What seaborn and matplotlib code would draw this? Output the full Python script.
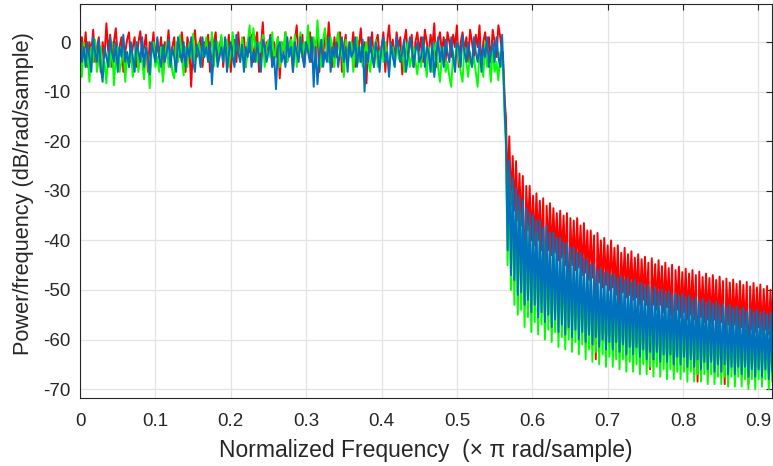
import numpy as np
import pandas as pd
import matplotlib
matplotlib.use("Agg")
import matplotlib.pyplot as plt
import seaborn as sns

# ---------------- data ----------------
series_names = ["red", "green", "blue"]
series_colors = ["#ff0000", "#00ff00", "#0072bd"]

pass_step = 0.0025          # passband frequency grid step (x pi rad/sample)
trans_freq = [0.561, 0.562, 0.563, 0.564]
peak_start, trough_start, ripple_period = 0.565, 0.56725, 0.0045

red_pass = [
    -8, 1, -3, 2, -5, 0, -2, 2.5, -4, -1, 1, -6, 0, -3, 3.8,
    -2, 1.5, -5, 0, 2.8, -3, -1, 1, -6, -2, 0.5, 2, -4, -1, 1,
    -5, 0, 2.2, -3, -1, 1.5, -6, 0, -2, 2, -4, 0.5, -3, 1, -7,
    0, -2, 2.4, -4, -1, 1, -5, 0.5, -3, 2, -2, -6, 1, -1, -9,
    0, 2.4, -3, -1, 1, -5, 0, -2, 1.5, -6, -3, 0, 2, -4, -1,
    1, -5, 0, -2, 1.5, -6, -1, 0.5, -4, 2, -3, -1, 1, -5, 0,
    -2, 1.5, -4, 0, 2, -6, -1, 4, -3, 0, -2, 1.5, -5, 0, -3,
    1, -7.3, 0, -2, 2, -4, -1, 1, -6, 0, 3.4, -3, -1, 1.5, -5,
    0, -2, 2, -4, 0.5, -1, 1.5, -6, 0, -3, 2, -2, 4, -1, -5,
    1, -3, 0, 2, -6, -1, 1.5, -4, 0, -2, 2, -5, 0.5, -1, 2.8,
    -3, 0, -8.3, 1, -2, 2, -5, 0, 1.5, -3, -1, 2, -6, 0, 3.4,
    -2, 0.5, -4, 2, -1, 1, -6.5, 0, 2.5, -3, -1, 1.5, -5, 0, 2,
    -2, 1, -4, 2.5, 0, -3, 1.5, -1, 3.8, -5, 0, 2, -2, 1, -4,
    2, 0, -3, 1.5, -1, 3.4, -5, 0, 2, -2, 1, -4, 2.5, 0, -3,
    1.5, -1, 3.4, -5, 0, 2, -2, 1, -4, 2.5, 0, -3, 3.4, 1, -2,
]
green_pass = [
    -3, -7, 0, -5, -2, -8, -1, -4, 0.5, -6, -3, -1, -7, -4, -8.3,
    -2, -5, 0, -8.7, -3, -1, -6, -4, 0, -8, -2, -5, -1, -7, -3,
    0, -6, -2, -4, -7.5, -1, -3, -9.3, -2, 0, -5, -3, -6, -1, -8,
    -3, 0, -5, -2, -6, -7.3, 0, -4, 1.4, -3, -6.7, -1, -5, 0, -3,
    1.7, -4, -2, 0, -5, -1, -3, 1, -4, -2, 2, -5, -1, 0, -3,
    1.5, -4, -1, 0.5, -5, -2, 2, -3, 0, -1, -4, 1, -2, -5, 0,
    3.4, -3, 2.8, -1, -4, 0, -2, 1.5, -5, -1, 0.5, -3, 2, -4, -1,
    1, -5, 0, -2, 2, -4, -1, 0.5, -3, 1.5, -5, -1, 2, -3, 0,
    -2, 3.4, -4, 0, 1, -3, 4.4, -1, -5, 0.5, 2.8, -2, -4, 1, -1,
    -5, 0, 2, -3, -1, -7, 0.5, -4, -2, 0, -6, -2, 1, -4, -1,
    -5, -2, 0, -4, -6, -1, -3, 0.5, -5, -2, -1, -4, 0, -3, -6,
    -2, -1, -5, 0, -3, -4, -1, -6, -2, 0, -5, -3, -1, -4, -6.5,
    -2, -5, 0, -3, -7, -1, -4, -6, -2, 0, -5, -8, -3, -1, -6,
    -4, -7, -9, -2, -5, 0, -3, -6, -8, -1, -4, -7, -2, -5, -3,
    -6, -9, -2, -4, -7, 0, -5, -3, -8, -1, -6, -4, -7.7, -2, -5,
]
blue_pass = [
    1, -4, -1, -5, 0, -3, -6, 1, -2, -4, 0.5, -5, -8, -1, -3,
    -5, 1, -2, -4, 0, -6, -1, -3, 1.5, -4, -2, -5, 0, -3, -6,
    0, -2, -4, 1, -5, -1, -3, -6.5, 0, -2, -4, 1, -3, -5, -0.5,
    -4, -2, 0.5, -5, -1, -3, -6, 1, -2, -4, 0, -5, -1, -3, 1,
    -4, -6, -0.5, -2, -5, 1, -3, -1, -4, 0, -8.5, -2, 0.5, -5, -3,
    -1, -4, 1, -6, -2, 0, -3, -5, 1.5, -2, -4, -0.5, -6, -1, -3,
    1, -5, -2, -4, 0, -3, -6, 0.5, -1, -4, -2, 1, -5, -3, -9.5,
    -1, 0, -4, -2, -5, 1, -3, -1, -6, 0, -2, -4, 1, -3, -5,
    0, -2, -4, 1, -9, -1, -8.5, -3, 0.5, -5, -2, -4, 1, -6, -1,
    -3, 0, -5, -2, 1, -4, -1, -6, 0, -3, -2, 1, -5, -1, -4,
    0.5, -10, -2, -4, 1, -3, -5, 0, -2, -6, -1, 1, -4, -2, -7,
    0, -3, -5, 1, -1, -4, -2, 0.5, -6, -3, 1, -1, -5, -2, 0,
    -4, -3, 1, -5, -1, -2, -6, 0, -7, -3, 1, -4, -1, -5, 0.5,
    -2, -4, 1, -3, -6, 0, -1, -5, 1.5, -2, -4, 0, -3, -5, 1,
    -2, -4, 0, -6, -1, -3, 1, -5, -2, 0, -4, 1, -3, -5, 1.5,
]

red_trans = [-2, -6, -10, -13]
green_trans = [-5, -9, -14, -18]
blue_trans = [-3, -7, -12, -16]

red_peak = [
    -15, -19, -23, -24, -26.5, -27, -29, -29, -31, -30.5, -32, -31.5, -33, -32.5,
    -33.5, -34.5, -34, -35, -34.5, -35.5, -36, -35.5, -37, -36.5, -38, -38, -39,
    -38.5, -40, -39.5, -41, -40, -41.5, -41, -42.5, -41.5, -42.8, -42.2, -43.5,
    -42.8, -43.8, -43.3, -44.5, -43.6, -44.8, -44, -45.2, -44.5, -45.6, -44.9, -46,
    -45.3, -46.4, -45.7, -46.7, -46, -47, -46.3, -47.4, -46.7, -47.6, -47, -48,
    -47.3, -48.2, -47.7, -48.5, -47.9, -48.8, -48.2, -49, -48.4, -49.3, -48.6,
    -49.5, -48.9, -49.8, -49.2, -50, -49.5,
]
red_trough = [
    -30, -33, -34, -36, -37, -52, -38, -40, -41, -40, -42, -55, -42, -43, -42.5,
    -44, -43.5, -45, -58, -45, -46, -45.5, -47, -46.5, -48, -47.5, -64, -48.5,
    -49.5, -49, -50, -49.5, -51, -55, -50.5, -51.5, -51, -52, -51.5, -53, -52,
    -53, -66, -53, -54, -53, -54.5, -53.5, -55, -66.5, -54, -55.5, -54.5, -56,
    -55, -56, -68.5, -55.5, -56.5, -56, -57, -56, -57.5, -56.5, -69, -57, -58,
    -57, -58, -57.5, -58.5, -69, -58, -58.5, -57.5, -59, -58, -59, -58.5,
]
green_peak = [
    -21, -26.5, -30, -31.5, -34, -34.5, -36.5, -37, -38.5, -38.5, -40, -40, -41,
    -41, -42.5, -42, -43.5, -43, -44.5, -44, -45.5, -45, -46.5, -46.5, -48, -47.5,
    -49, -48.5, -50, -49, -50.5, -49.5, -51, -50.5, -51.5, -51, -52, -51.5, -52.5,
    -52, -53, -52.3, -53.3, -52.8, -53.8, -53.2, -54.2, -53.5, -54.5, -53.8, -54.8,
    -54.2, -55, -54.5, -55.3, -54.8, -55.7, -55.2, -56, -55.5, -56.3, -55.8, -56.6,
    -56, -56.8, -56.3, -57, -56.5, -57.3, -56.7, -57.5, -57, -57.7, -57.2, -57.9,
    -57.4, -58, -57.6, -58.2, -57.8,
]
green_trough = [
    -45, -50, -53, -55, -54, -57.5, -55.5, -58.5, -56.5, -59, -57, -60, -58, -60.5,
    -58.5, -61.5, -59.5, -62, -60, -62.5, -60.5, -63, -61, -64, -62, -64.5, -62.5,
    -65, -63, -65.5, -63.5, -65.5, -64, -66, -64, -66.5, -64.5, -66.5, -65, -67,
    -65, -67, -65.5, -67.5, -65.5, -67.5, -66, -68, -66, -68, -66.5, -68, -66.5,
    -68.5, -66.5, -68.5, -67, -68.5, -67, -69, -67, -69, -67.5, -69, -67.5, -69.5,
    -67.5, -69.5, -67.5, -69.5, -68, -70, -68, -70, -68, -69.5, -68, -70, -68.5,
]
blue_peak = [
    -19, -24, -27.5, -29.5, -31, -32, -33.5, -34.5, -35, -36, -36, -37.5, -37,
    -38.5, -38.5, -39.5, -39.5, -40.5, -40.5, -41.5, -41.5, -42.5, -42.5, -43.5,
    -44, -45, -44.8, -46, -45.6, -46.6, -46.3, -47, -46.8, -47.7, -47.2, -48, -47.6,
    -48.5, -48, -49, -48.5, -49.4, -49, -50, -49.4, -50.4, -49.9, -50.8, -50.2, -51,
    -50.6, -51.3, -50.8, -51.6, -51.2, -52, -51.5, -52.3, -51.8, -52.7, -52.1, -53,
    -52.4, -53.2, -52.8, -53.5, -53, -53.8, -53.3, -54, -53.6, -54.3, -53.8, -54.5,
    -54, -54.8, -54.3, -55, -54.6, -55.3,
]
blue_trough = [
    -42, -47, -48, -51, -50.5, -53, -52, -54.5, -53, -55.5, -54.5, -56.5, -55,
    -57.5, -56, -58.5, -57, -59, -57.5, -59.5, -58, -60, -58.5, -60.5, -59, -61,
    -59.5, -61.5, -60, -62, -60.5, -62, -60.5, -62.5, -61, -63, -61.5, -63, -61.5,
    -63.5, -62, -64, -62.5, -64, -62.5, -64.5, -63, -64.5, -63, -65, -63.5, -65,
    -63.5, -65.5, -64, -65.5, -64, -66, -64.5, -66, -64.5, -66.5, -65, -66.5, -65,
    -67, -65.5, -67, -65.5, -67, -65.5, -67.5, -66, -67.5, -66, -67.5, -66, -68,
    -66.5,
]

x_ticks = [0, 0.1, 0.2, 0.3, 0.4, 0.5, 0.6, 0.7, 0.8, 0.9]
x_tick_labels = ["0", "0.1", "0.2", "0.3", "0.4", "0.5", "0.6", "0.7", "0.8", "0.9"]
y_ticks = [0, -10, -20, -30, -40, -50, -60, -70]
y_tick_labels = ["0", "-10", "-20", "-30", "-40", "-50", "-60", "-70"]
x_label = "Normalized Frequency  (\u00d7 \u03c0 rad/sample)"
y_label = "Power/frequency (dB/rad/sample)"

# ---------------- build table ----------------
parts = {
    "red": (red_pass, red_trans, red_peak, red_trough),
    "green": (green_pass, green_trans, green_peak, green_trough),
    "blue": (blue_pass, blue_trans, blue_peak, blue_trough),
}
frames = []
for name in series_names:
    p, t, pk, tr = parts[name]
    f = np.concatenate([
        np.arange(len(p)) * pass_step,
        np.array(trans_freq),
        peak_start + ripple_period * np.arange(len(pk)),
        trough_start + ripple_period * np.arange(len(tr)),
    ])
    v = np.concatenate([p, t, pk, tr]).astype(float)
    frames.append(pd.DataFrame({"freq": f, "psd": v, "series": name}))
df = pd.concat(frames, ignore_index=True)

# ---------------- plot ----------------
sns.set_theme(style="white")
plt.rcParams["font.family"] = ["Liberation Sans", "DejaVu Sans"]
plt.rcParams["axes.unicode_minus"] = False

fig = plt.figure(figsize=(7.73, 4.66), dpi=100)
ax = fig.add_axes([80 / 773, 68 / 466, (772 - 80) / 773, (398 - 4) / 466])

sns.lineplot(data=df, x="freq", y="psd", hue="series", hue_order=series_names,
             palette=series_colors, estimator=None, sort=True, linewidth=1.4,
             legend=False, ax=ax)

ax.set_xlim(0, 0.918)
ax.set_ylim(-71.8, 7.7)
ax.set_xticks(x_ticks)
ax.set_xticklabels(x_tick_labels)
ax.set_yticks(y_ticks)
ax.set_yticklabels(y_tick_labels)
ax.grid(True, color="#e3e3e3", linewidth=0.9)
ax.set_axisbelow(True)
ax.tick_params(direction="in", length=4, width=0.8, color="#262626",
               labelsize=13.5, labelcolor="#262626", top=True, right=True)
ax.tick_params(axis="x", pad=11)
ax.tick_params(axis="y", pad=7)
for s in ax.spines.values():
    s.set_color("#262626")
    s.set_linewidth(0.8)
ax.set_xlabel(x_label, fontsize=16.5, color="#262626", labelpad=6)
ax.set_ylabel(y_label, fontsize=15.7, color="#262626")
ax.yaxis.set_label_coords(-0.066, 0.518)

fig.savefig("out.png", dpi=100)
